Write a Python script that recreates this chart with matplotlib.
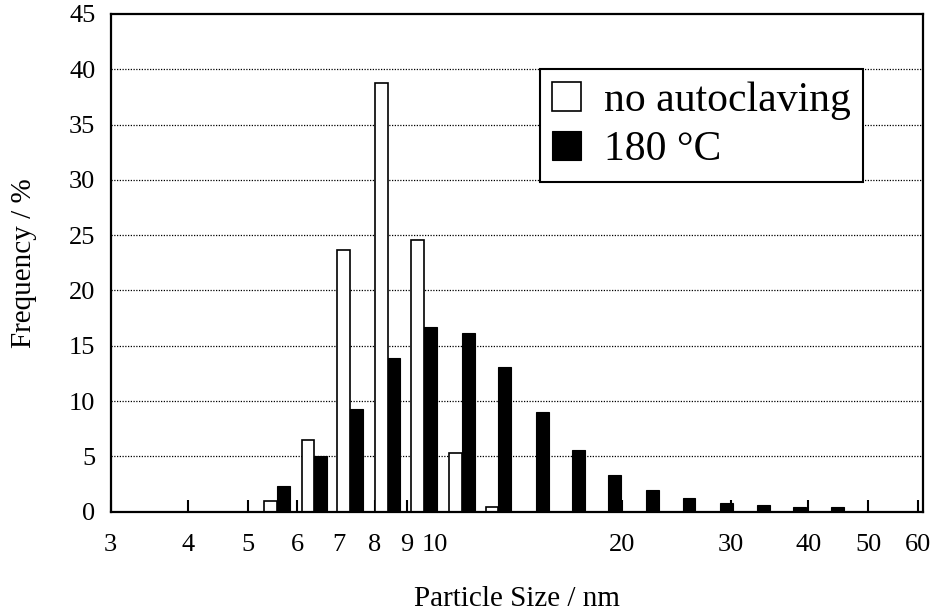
import numpy as np
import matplotlib
matplotlib.use("Agg")
import matplotlib.pyplot as plt
from matplotlib.ticker import FixedLocator, FixedFormatter, NullLocator

plt.rcParams['font.family'] = ['Liberation Serif', 'DejaVu Serif']

# Particle size bins (nm) and frequency (%) for the two samples
bin_sizes = [5.56, 6.39, 7.30, 8.39, 9.60, 11.05, 12.65, 14.55,
             16.66, 19.03, 21.89, 25.09, 28.85, 33.06, 37.83, 43.52]
freq_no_autoclave = [1.0, 6.5, 23.7, 38.8, 24.6, 5.3, 0.4, 0.0,
                     0.0, 0.0, 0.0, 0.0, 0.0, 0.0, 0.0, 0.0]
freq_180C = [2.3, 5.0, 9.3, 13.9, 16.7, 16.2, 13.1, 9.0,
             5.6, 3.3, 2.0, 1.2, 0.8, 0.6, 0.4, 0.4]

series_labels = ["no autoclaving", "180 \u00b0C"]
x_ticks = [3, 4, 5, 6, 7, 8, 9, 10, 20, 30, 40, 50, 60]
y_ticks = [0, 5, 10, 15, 20, 25, 30, 35, 40, 45]

sizes = np.array(bin_sizes)
white = np.array(freq_no_autoclave)
black = np.array(freq_180C)
step = 1.0483  # width ratio of a single bar on the log axis

fig = plt.figure(figsize=(9.37, 6.16), dpi=100)
ax = fig.add_axes([0.1181, 0.1693, 0.8673, 0.8080])
ax.set_xscale('log')
ax.set_xlim(3, 61.3)
ax.set_ylim(0, 45)

# dotted horizontal guide lines behind the bars
for yv in y_ticks[1:-1]:
    ax.axhline(yv, color='black', lw=0.9, ls=(0, (1, 1.2)), zorder=0.5)

m = white > 0
ax.bar(sizes[m] / step, white[m], width=sizes[m] - sizes[m] / step,
       align='edge', color='white', edgecolor='black', lw=1.2,
       zorder=2, label=series_labels[0])
ax.bar(sizes, black, width=sizes * (step - 1), align='edge',
       color='black', edgecolor='black', lw=0.8, zorder=2,
       label=series_labels[1])

ax.xaxis.set_major_locator(FixedLocator(x_ticks))
ax.xaxis.set_major_formatter(FixedFormatter([str(v) for v in x_ticks]))
ax.xaxis.set_minor_locator(NullLocator())
ax.set_yticks(y_ticks)
ax.set_yticklabels([str(v) for v in y_ticks])

ax.tick_params(axis='x', direction='in', length=8.5, width=1.5,
               labelsize=19, pad=16)
ax.tick_params(axis='y', length=0, labelsize=19, pad=11)
for sp in ax.spines.values():
    sp.set_linewidth(1.6)
    sp.set_zorder(3)

ax.set_xlabel("Particle Size / nm", fontsize=21, labelpad=22)
ax.set_ylabel("Frequency / %", fontsize=21, labelpad=23)

leg = ax.legend(loc='upper left', bbox_to_anchor=(0.5283, 0.8889),
                fontsize=30, frameon=True, fancybox=False,
                edgecolor='black', framealpha=1, handlelength=0.68,
                handleheight=0.68, handletextpad=0.55, labelspacing=0.25,
                borderpad=0.3, borderaxespad=0)
leg.get_frame().set_linewidth(1.5)
leg.set_zorder(5)

fig.savefig("out.png", dpi=100)
